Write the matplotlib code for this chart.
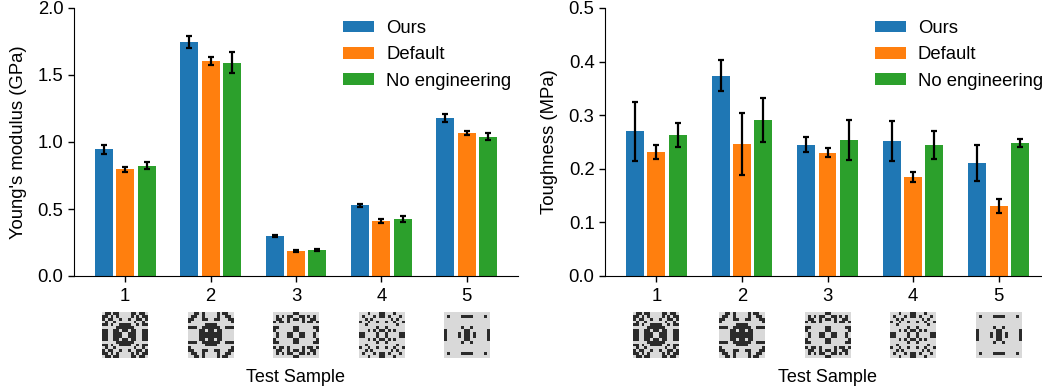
import numpy as np
import matplotlib
matplotlib.use('Agg')
import matplotlib.pyplot as plt
from matplotlib.colors import ListedColormap
from matplotlib.transforms import blended_transform_factory

plt.rcParams['font.family'] = ['Liberation Sans', 'DejaVu Sans']
plt.rcParams['font.size'] = 13.3

samples = [1, 2, 3, 4, 5]
series = ['Ours', 'Default', 'No engineering']
colors = ['#1f77b4', '#ff7f0e', '#2ca02c']

# Young's modulus (GPa)
ym_ours = [0.946, 1.746, 0.299, 0.528, 1.178]
ym_default = [0.797, 1.604, 0.187, 0.411, 1.068]
ym_noeng = [0.822, 1.592, 0.194, 0.426, 1.039]
ym_ours_err = [0.034, 0.047, 0.008, 0.012, 0.029]
ym_default_err = [0.020, 0.030, 0.008, 0.018, 0.014]
ym_noeng_err = [0.026, 0.077, 0.006, 0.020, 0.027]

# Toughness (MPa)
tg_ours = [0.270, 0.374, 0.245, 0.252, 0.211]
tg_default = [0.232, 0.247, 0.230, 0.185, 0.130]
tg_noeng = [0.263, 0.291, 0.254, 0.245, 0.248]
tg_ours_err = [0.055, 0.029, 0.014, 0.037, 0.033]
tg_default_err = [0.013, 0.058, 0.008, 0.009, 0.013]
tg_noeng_err = [0.022, 0.041, 0.037, 0.026, 0.008]

# top-left quadrants of the sample patterns (1 = solid), mirrored to full tiles
quad1 = [[0, 1, 1, 0, 1, 1, 0, 0],
         [1, 1, 0, 1, 0, 1, 0, 0],
         [1, 0, 1, 1, 0, 0, 1, 0],
         [0, 1, 0, 0, 1, 0, 0, 0],
         [1, 1, 0, 1, 0, 0, 1, 1],
         [0, 0, 0, 0, 0, 1, 1, 1],
         [1, 1, 0, 0, 1, 1, 0, 1],
         [1, 1, 0, 0, 1, 1, 1, 0]]
quad2 = [[0, 0, 1, 1, 0, 1, 0, 0],
         [0, 1, 1, 0, 0, 1, 0, 0],
         [1, 1, 0, 0, 0, 1, 1, 0],
         [1, 0, 0, 0, 0, 0, 0, 0],
         [0, 0, 0, 0, 0, 0, 1, 1],
         [1, 1, 1, 0, 0, 1, 1, 1],
         [0, 0, 0, 0, 1, 1, 0, 1],
         [0, 0, 0, 0, 1, 1, 1, 1]]
quad3 = [[0, 0, 0, 0, 0, 0, 0, 1],
         [0, 1, 0, 1, 0, 1, 1, 0],
         [0, 1, 1, 0, 0, 1, 0, 1],
         [1, 0, 1, 1, 0, 1, 0, 0],
         [0, 0, 0, 0, 0, 0, 0, 0],
         [1, 1, 0, 0, 0, 0, 0, 1],
         [1, 0, 0, 0, 0, 0, 0, 1],
         [0, 1, 0, 0, 0, 1, 1, 0]]
quad4 = [[0, 0, 0, 1, 0, 0, 0, 1],
         [0, 1, 0, 0, 0, 1, 0, 1],
         [0, 0, 1, 0, 1, 0, 0, 0],
         [1, 0, 0, 1, 0, 0, 1, 0],
         [0, 0, 1, 0, 0, 0, 0, 0],
         [0, 0, 0, 0, 0, 0, 1, 0],
         [0, 0, 0, 1, 0, 1, 0, 1],
         [1, 1, 0, 0, 0, 0, 1, 0]]
quad5 = [[0, 0, 0, 0, 0, 0, 0, 0],
         [0, 1, 0, 0, 0, 0, 1, 1],
         [0, 0, 0, 0, 0, 0, 0, 0],
         [0, 0, 0, 0, 0, 0, 0, 0],
         [0, 0, 0, 0, 0, 0, 0, 0],
         [0, 0, 0, 0, 0, 0, 1, 0],
         [1, 0, 0, 0, 0, 0, 0, 1],
         [1, 0, 0, 0, 0, 1, 0, 1]]
quads = [quad1, quad2, quad3, quad4, quad5]


def tile(q):
    q = np.array(q)
    top = np.hstack([q, q[:, ::-1]])
    return np.vstack([top, top[::-1, :]])


fig = plt.figure(figsize=(10.42, 3.91), dpi=100)
ax1 = fig.add_axes([74 / 1042, 115 / 391, 444 / 1042, 268 / 391])
ax2 = fig.add_axes([605 / 1042, 115 / 391, 445 / 1042, 268 / 391])

pat_cmap = ListedColormap(['#d9d9d9', '#2b2b2b'])
x = np.array(samples)
w = 0.21
off = 0.25


def panel(ax, vals, errs, ylim, yticks, ylabel):
    for k in range(3):
        ax.bar(x + (k - 1) * off, vals[k], w, color=colors[k], label=series[k],
               yerr=errs[k], capsize=2.2, error_kw=dict(elinewidth=1.6, capthick=1.6, ecolor='black'))
    ax.set_xlim(0.4, 5.6)
    ax.set_ylim(*ylim)
    ax.set_yticks(yticks)
    ax.set_xticks(samples)
    ax.spines['top'].set_visible(False)
    ax.spines['right'].set_visible(False)
    ax.tick_params(length=4, width=1, labelsize=13.3)
    ax.tick_params(axis='x', pad=4.5)
    ax.set_ylabel(ylabel, fontsize=13.3)
    ax.yaxis.set_label_coords(-0.106, 0.5)
    ax.legend(loc='upper left', bbox_to_anchor=(269 / 444, 0.955), frameon=False,
              borderaxespad=0, borderpad=0, handlelength=1.68, handleheight=0.6,
              handletextpad=0.65, labelspacing=0.5, fontsize=13.3)
    tr = blended_transform_factory(ax.transData, ax.transAxes)
    for i, q in enumerate(quads):
        ins = ax.inset_axes([samples[i] - 0.268, -0.305, 0.536, 0.171], transform=tr)
        ins.imshow(tile(q), cmap=pat_cmap, interpolation='nearest', aspect='auto')
        ins.axis('off')
    ax.text(3, -0.38, 'Test Sample', transform=tr, ha='center', va='center', fontsize=13)


panel(ax1, [ym_ours, ym_default, ym_noeng], [ym_ours_err, ym_default_err, ym_noeng_err],
      (0, 2.0), [0, 0.5, 1.0, 1.5, 2.0], "Young's modulus (GPa)")
panel(ax2, [tg_ours, tg_default, tg_noeng], [tg_ours_err, tg_default_err, tg_noeng_err],
      (0, 0.5), [0, 0.1, 0.2, 0.3, 0.4, 0.5], 'Toughness (MPa)')

fig.savefig('out.png', dpi=100)
